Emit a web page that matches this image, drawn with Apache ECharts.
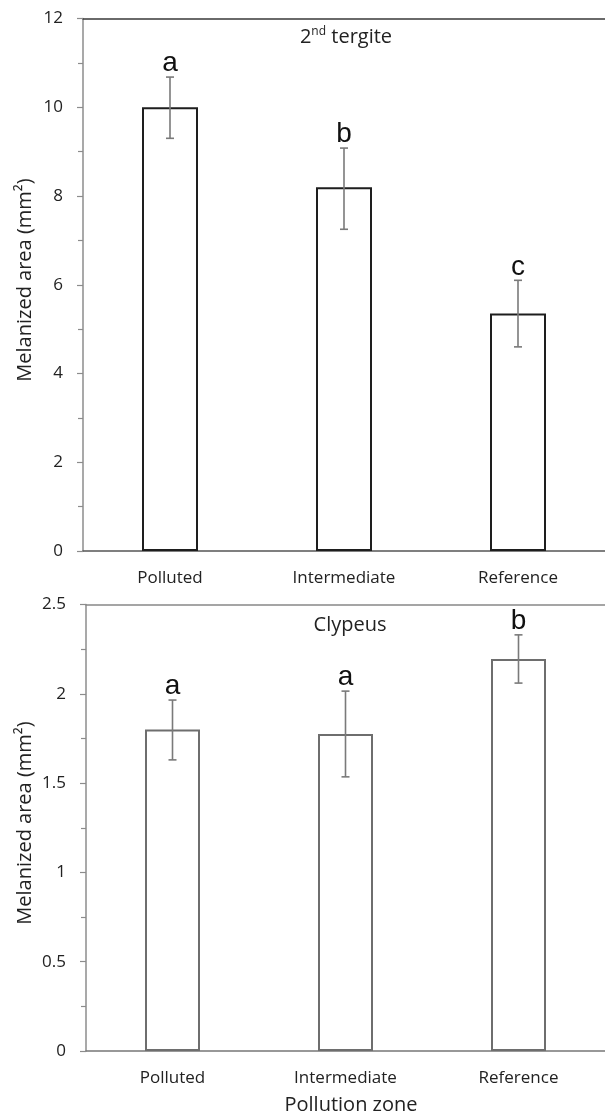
<!DOCTYPE html>
<html><head><meta charset="utf-8">
<script src="https://cdn.jsdelivr.net/npm/echarts@6/dist/echarts.min.js"></script>
<style>html,body{margin:0;padding:0;background:#fff}#c{width:605px;height:1118px}</style>
</head><body><div id="c"></div>
<script>
const categories = ['Polluted', 'Intermediate', 'Reference'];
const tergiteMean = [10.0, 8.2, 5.35];
const tergiteLow = [9.3, 7.25, 4.6];
const tergiteHigh = [10.68, 9.08, 6.1];
const tergiteLetters = ['a', 'b', 'c'];
const clypeusMean = [1.80, 1.775, 2.195];
const clypeusLow = [1.63, 1.535, 2.06];
const clypeusHigh = [1.965, 2.015, 2.33];
const clypeusLetters = ['a', 'a', 'b'];
const tergiteTicks = [0, 2, 4, 6, 8, 10, 12];
const clypeusTicks = [0, 0.5, 1, 1.5, 2, 2.5];
const yTitle = 'Melanized area (mm²)';
const xTitle = 'Pollution zone';

const FONT = '"Open Sans", "DejaVu Sans", sans-serif';
const chart = echarts.init(document.getElementById('c'), null, {renderer: 'canvas'});

function yAxis(gridIndex, ticks) {
  return {
    type: 'value', gridIndex,
    min: ticks[0], max: ticks[ticks.length - 1], interval: ticks[1] - ticks[0],
    axisLine: {show: true, lineStyle: {color: '#8c8c8c', width: 1.5}},
    axisTick: {show: true, length: 6, lineStyle: {color: '#8c8c8c', width: 1.2}},
    minorTick: {show: true, splitNumber: 2, length: 5, lineStyle: {color: '#8c8c8c', width: 1.2}},
    splitLine: {show: false},
    axisLabel: {margin: 20, fontSize: 17, fontFamily: FONT, color: '#222'}
  };
}
function xBottom(gridIndex, color) {
  return {
    type: 'category', gridIndex, data: categories, position: 'bottom',
    axisLine: {show: true, lineStyle: {color: color, width: 1.5}},
    axisTick: {show: false},
    axisLabel: {margin: 19, fontSize: 17, fontFamily: FONT, color: '#222'}
  };
}
function xTop(gridIndex, color) {
  return {
    type: 'category', gridIndex, data: categories, position: 'top',
    axisLine: {show: true, lineStyle: {color: color, width: 1.5}},
    axisTick: {show: false}, axisLabel: {show: false}
  };
}
function errorSeries(xIdx, yIdx, low, high, letters) {
  return {
    type: 'custom', xAxisIndex: xIdx, yAxisIndex: yIdx, z: 10,
    data: categories.map((c, i) => [i, low[i], high[i]]),
    renderItem(params, api) {
      const i = api.value(0);
      const lo = api.coord([i, api.value(1)]);
      const hi = api.coord([i, api.value(2)]);
      const cw = 4;
      const st = {stroke: '#7a7a7a', lineWidth: 1.6};
      return {type: 'group', children: [
        {type: 'line', shape: {x1: lo[0], y1: lo[1], x2: hi[0], y2: hi[1]}, style: st},
        {type: 'line', shape: {x1: hi[0] - cw, y1: hi[1], x2: hi[0] + cw, y2: hi[1]}, style: st},
        {type: 'line', shape: {x1: lo[0] - cw, y1: lo[1], x2: lo[0] + cw, y2: lo[1]}, style: st},
        {type: 'text', x: hi[0], y: hi[1] + 0.5, style: {
          text: letters[params.dataIndex], fontSize: 28, fontFamily: '"Liberation Sans", Arial, sans-serif',
          fill: '#111', align: 'center', verticalAlign: 'bottom'}}
      ]};
    }
  };
}

chart.setOption({
  animation: false,
  backgroundColor: '#fff',
  grid: [
    {left: 83, top: 18.5, width: 533, height: 532.5},
    {left: 86, top: 604.5, width: 529, height: 446.5}
  ],
  xAxis: [xBottom(0, '#555'), xTop(0, '#3a3a3a'), xBottom(1, '#777'), xTop(1, '#888')],
  yAxis: [yAxis(0, tergiteTicks), yAxis(1, clypeusTicks)],
  series: [
    {type: 'bar', xAxisIndex: 0, yAxisIndex: 0, data: tergiteMean, barWidth: 56,
     itemStyle: {color: '#fff', borderColor: '#1e1e1e', borderWidth: 2}},
    {type: 'bar', xAxisIndex: 2, yAxisIndex: 1, data: clypeusMean, barWidth: 55,
     itemStyle: {color: '#fff', borderColor: '#6e6e6e', borderWidth: 2}},
    errorSeries(0, 0, tergiteLow, tergiteHigh, tergiteLetters),
    errorSeries(2, 1, clypeusLow, clypeusHigh, clypeusLetters)
  ],
  graphic: [
    {type: 'text', x: 346, y: 26, style: {
      text: '{n|2}{s|nd}{n| tergite}', align: 'center', verticalAlign: 'top',
      rich: {n: {fontSize: 20, fontFamily: FONT, fill: '#222', lineHeight: 22},
             s: {fontSize: 12, fontFamily: FONT, fill: '#222', verticalAlign: 'top', lineHeight: 22}}}},
    {type: 'text', x: 350, y: 625, style: {text: 'Clypeus', fontSize: 20, fontFamily: FONT, fill: '#222',
      align: 'center', verticalAlign: 'middle'}},
    {type: 'text', x: 25, y: 280, rotation: Math.PI / 2, style: {text: yTitle, fontSize: 20, fontFamily: FONT,
      fill: '#222', align: 'center', verticalAlign: 'middle'}},
    {type: 'text', x: 25, y: 823, rotation: Math.PI / 2, style: {text: yTitle, fontSize: 20, fontFamily: FONT,
      fill: '#222', align: 'center', verticalAlign: 'middle'}},
    {type: 'text', x: 351, y: 1105, style: {text: xTitle, fontSize: 20, fontFamily: FONT, fill: '#222',
      align: 'center', verticalAlign: 'middle'}}
  ]
});
</script></body></html>
